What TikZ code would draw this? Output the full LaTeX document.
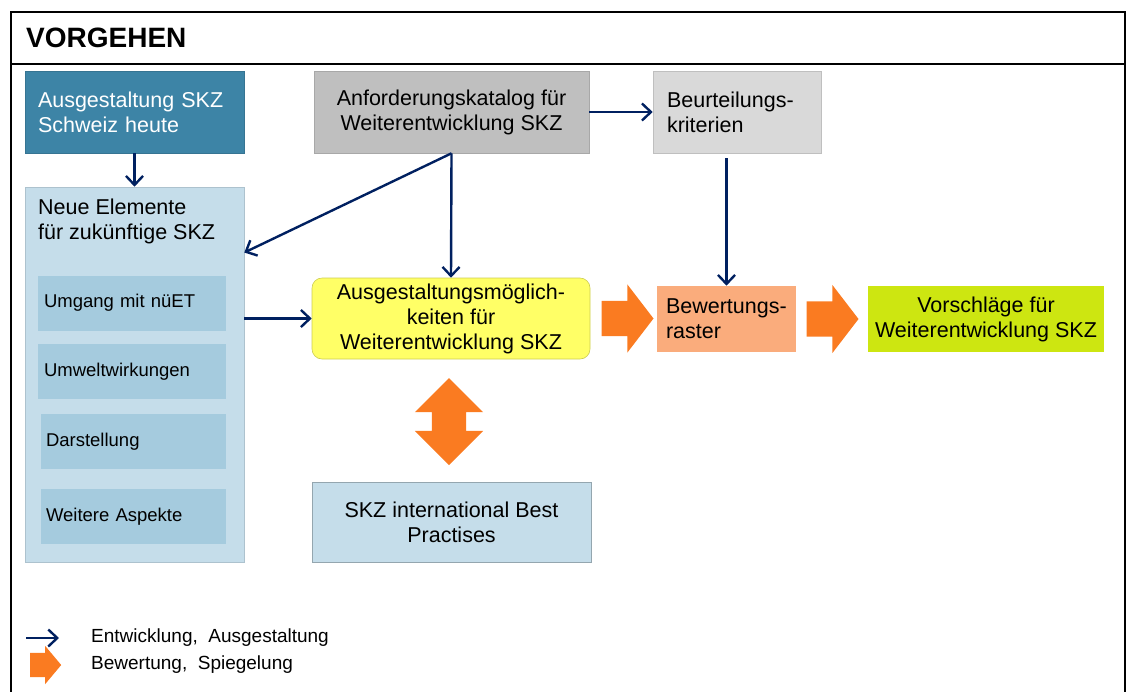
\documentclass[tikz,border=0pt]{standalone}
\usepackage{fontspec}
\setmainfont{Liberation Sans}
\usetikzlibrary{arrows.meta}
\usetikzlibrary{shapes.arrows}

\definecolor{navy}{RGB}{0,32,96}
\definecolor{heuteblau}{RGB}{61,132,166}
\definecolor{hellblau}{RGB}{197,221,234}
\definecolor{mittelblau}{RGB}{165,203,222}
\definecolor{grauA}{RGB}{191,191,191}
\definecolor{grauB}{RGB}{217,217,217}
\definecolor{gelb}{RGB}{255,255,102}
\definecolor{lachs}{RGB}{250,172,124}
\definecolor{gruen}{RGB}{205,230,17}
\definecolor{orangeA}{RGB}{250,123,33}

\begin{document}
\begin{tikzpicture}[x=1pt,y=1pt,yscale=-1,
  box/.style={fill=#1, draw=#1!88!black, line width=0.6pt, inner sep=0pt,
    font=\fontsize{21.5}{25}\selectfont, align=center},
  sub/.style={box=mittelblau, draw=none, minimum height=55pt, inner xsep=6pt,
    align=left, font=\fontsize{18.5}{22}\selectfont},
  flow/.style={draw=navy, line width=2.4pt, -{Straight Barb[length=9pt,width=17pt]}},
  barrow/.style={single arrow, fill=orangeA, draw=none, anchor=tail,
    inner xsep=0pt, inner ysep=17.5pt, single arrow head extend=16.5pt,
    single arrow tip angle=105, minimum width=68pt, minimum height=52pt},
  darrow/.style={double arrow, fill=orangeA, draw=none, rotate=90,
    inner xsep=0pt, inner ysep=17pt, double arrow head extend=17pt,
    minimum width=68pt, minimum height=87pt},
  legtext/.style={anchor=west, inner sep=0pt, font=\fontsize{19}{22}\selectfont}]
  \useasboundingbox (0,0) rectangle (1126,691);
  % frame and title
  \draw[line width=2pt] (11,692) -- (11,12) -- (1125,12) -- (1125,692);
  \draw[line width=2pt] (11,64) -- (1125,64);
  \node[anchor=west, inner sep=0pt, font=\bfseries\fontsize{28}{32}\selectfont] (titel) at (26,38) {VORGEHEN};

  % left column
  \node[box=heuteblau, text=white, text width=193pt, inner xsep=13pt, align=left,
        minimum width=219pt, minimum height=82pt] (heute) at (134.5,112) {Ausgestaltung SKZ\\Schweiz heute};
  \node[box=hellblau, minimum width=219pt, minimum height=375pt] (neue) at (134.5,374.5) {};
  \node[anchor=west, inner sep=0pt, align=left, font=\fontsize{21.5}{25}\selectfont] (neuetxt) at (38,221) {Neue Elemente\\für zukünftige SKZ};
  \node[sub, text width=176pt] (umgang) at (132,303)   {Umgang mit nüET};
  \node[sub, text width=176pt] (umwelt) at (132,371.5) {Umweltwirkungen};
  \node[sub, text width=175pt, inner xsep=5pt] (darst) at (133.5,441.5) {Darstellung};
  \node[sub, text width=175pt, inner xsep=5pt] (weitere) at (133.5,516.5) {Weitere Aspekte};

  % middle column
  \node[box=grauA, minimum width=275pt, minimum height=82pt] (anf) at (451.5,112) {Anforderungskatalog für\\Weiterentwicklung SKZ};
  \node[box=gelb, draw=gelb!80!black, rounded corners=10pt, minimum width=278pt, minimum height=81pt] (aus) at (451,318.5) {Ausgestaltungsmöglich-\\keiten für\\Weiterentwicklung SKZ};
  \node[box=hellblau, draw=hellblau!75!black, minimum width=279pt, minimum height=80pt] (best) at (451.5,522) {SKZ international Best\\Practises};
  \node[darrow] (spiegel) at (449,421.5) {};

  % right part
  \node[box=grauB, text width=140pt, inner xsep=14pt, align=left,
        minimum width=168pt, minimum height=82pt] (beu) at (737,112) {Beurteilungs-\\kriterien};
  \node[box=lachs, draw=none, text width=121pt, inner xsep=9pt, align=left,
        minimum width=139pt, minimum height=66pt] (bew) at (726.5,319) {Bewertungs-\\raster};
  \node[box=gruen, draw=none, minimum width=236pt, minimum height=66pt] (vor) at (986,319) {Vorschläge für\\Weiterentwicklung SKZ};

  % connectors
  \draw[flow] (heute) -- (neue);
  \draw[flow] (anf) -- (beu);
  \draw[flow] (anf.south) -- (aus.north);
  \draw[flow] (anf.south) -- (neue.48.7);
  \draw[flow] (neue.east |- aus.west) -- (aus.west);
  \draw[flow, shorten <=5pt] (bew.north |- beu.south) -- (bew.north);
  \node[barrow] (pfeilA) at ([xshift=11pt]aus.east) {};
  \node[barrow] (pfeilB) at ([xshift=10pt]bew.east) {};

  % legend
  \coordinate (lgA) at (26,638);
  \coordinate (lgB) at (59,638);
  \draw[flow] (lgA) -- (lgB);
  \node[barrow, minimum width=38pt, minimum height=31pt, inner ysep=12pt,
        single arrow head extend=7pt, single arrow tip angle=100] (lgpfeil) at (30,665) {};
  \node[legtext] (lgtxtA) at (91,638) {Entwicklung,\ \ Ausgestaltung};
  \node[legtext] (lgtxtB) at (91,665) {Bewertung,\ \ Spiegelung};
\end{tikzpicture}
\end{document}
